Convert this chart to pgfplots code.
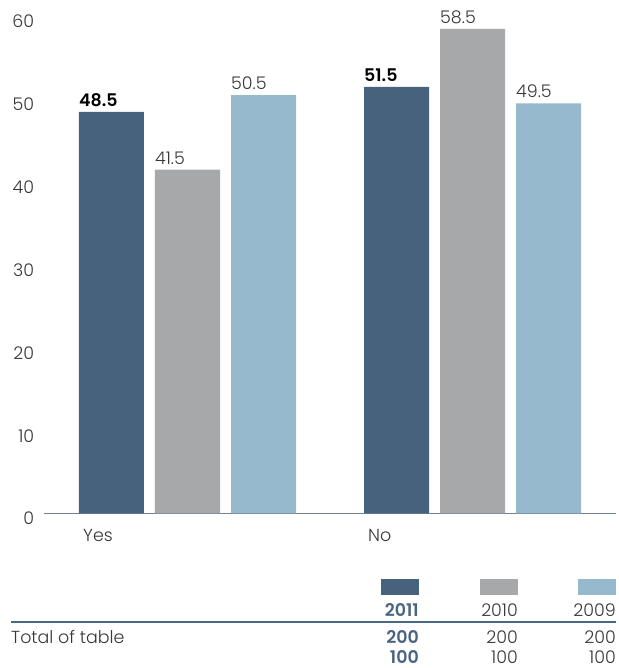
\documentclass[border=0pt]{standalone}
\usepackage{fontspec}
\setmainfont{Poppins}[UprightFont=* Light, BoldFont=* SemiBold]
\usepackage{pgfplots}
\pgfplotsset{compat=1.18}
\definecolor{c11}{RGB}{70,98,124}
\definecolor{c10}{RGB}{167,168,170}
\definecolor{c09}{RGB}{151,185,206}
\definecolor{axisc}{RGB}{111,130,150}
\definecolor{legline}{RGB}{75,103,132}
\definecolor{txt}{RGB}{55,55,55}
\definecolor{blu}{RGB}{74,100,130}
\newcommand{\fs}{\fontsize{17.5}{20}\selectfont}
\begin{document}
\begin{tikzpicture}
\path[use as bounding box] (0,0) rectangle (619bp,668bp);
\begin{axis}[
  at={(44bp,154.5bp)}, anchor=south west,
  width=572bp, height=497bp, scale only axis,
  xmin=-0.5035, xmax=1.5035, ymin=0, ymax=60,
  ybar, bar width=65bp,
  xtick={0,1}, xticklabels={Yes,No},
  ytick={0,10,...,60},
  axis lines*=left,
  y axis line style={draw=none},
  x axis line style={draw=axisc, line width=1.2bp},
  major tick length=0pt,
  tick style={draw=none},
  /pgf/number format/assume math mode=true,
  ticklabel style={font=\fs, text=txt, inner sep=0pt},
  xticklabel style={anchor=north west, xshift=-104.5bp, yshift=-15.5bp},
  yticklabel style={anchor=north east, xshift=-9.7bp, yshift=1.5bp},
  nodes near coords,
  every node near coord/.append style={anchor=base west, xshift=-32.5bp, yshift=5.5bp, inner sep=0pt, font=\fs, text=txt},
  clip=false,
]
\addplot[fill=c11, draw=none, bar shift=-76bp, every node near coord/.append style={font=\fs\bfseries, text=black}] coordinates {(0,48.5) (1,51.5)};
\addplot[fill=c10, draw=none, bar shift=0bp] coordinates {(0,41.5) (1,58.5)};
\addplot[fill=c09, draw=none, bar shift=76bp] coordinates {(0,50.5) (1,49.5)};
\end{axis}
\fill[c11] (381bp,73bp) rectangle (419bp,89bp);
\fill[c10] (480bp,73bp) rectangle (518bp,89bp);
\fill[c09] (578bp,73bp) rectangle (616bp,89bp);
\node[anchor=base east, inner sep=0pt, font=\fs\bfseries, text=blu] at (419bp,51bp) {2011};
\node[anchor=base east, inner sep=0pt, font=\fs, text=txt] at (518bp,51bp) {2010};
\node[anchor=base east, inner sep=0pt, font=\fs, text=txt] at (616bp,51bp) {2009};
\draw[line width=2bp, legline] (11bp,46.3bp) -- (616bp,46.3bp);
\node[anchor=base west, inner sep=0pt, font=\fs, text=txt] at (11bp,24.7bp) {Total of table};
\node[anchor=base east, inner sep=0pt, font=\fs\bfseries, text=blu] at (419bp,24.7bp) {200};
\node[anchor=base east, inner sep=0pt, font=\fs, text=txt] at (518bp,24.7bp) {200};
\node[anchor=base east, inner sep=0pt, font=\fs, text=txt] at (616bp,24.7bp) {200};
\node[anchor=base east, inner sep=0pt, font=\fs\bfseries, text=blu] at (419bp,5bp) {100};
\node[anchor=base east, inner sep=0pt, font=\fs, text=txt] at (518bp,5bp) {100};
\node[anchor=base east, inner sep=0pt, font=\fs, text=txt] at (616bp,5bp) {100};
\end{tikzpicture}
\end{document}
